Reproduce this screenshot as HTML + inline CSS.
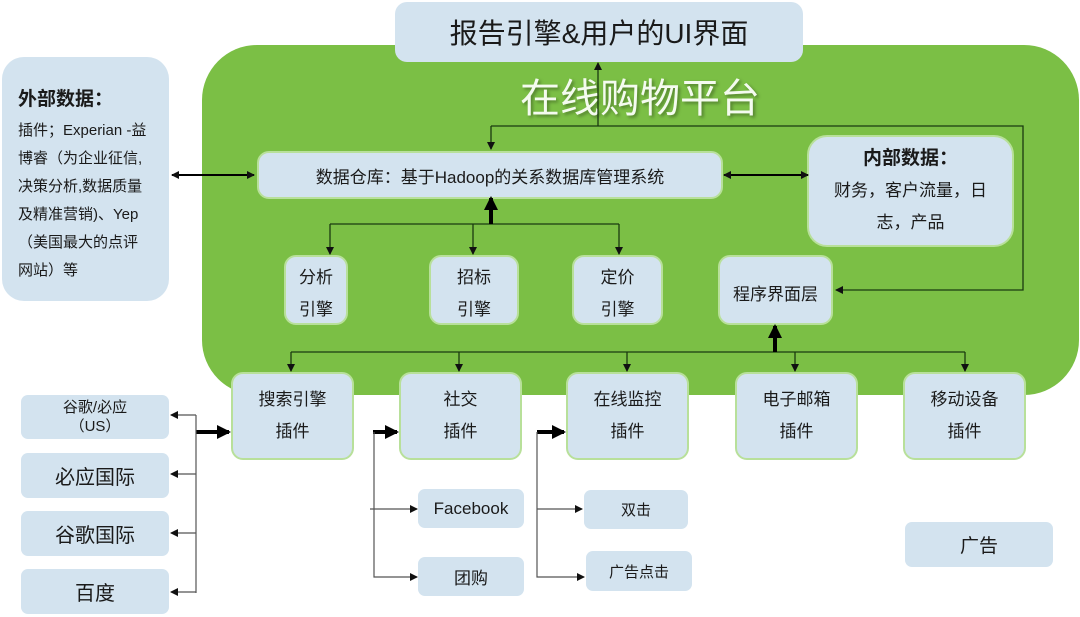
<!DOCTYPE html>
<html><head><meta charset="utf-8"><style>
body{margin:0;width:1080px;height:617px;background:#fff;position:relative;overflow:hidden;font-family:"Liberation Sans","Noto Sans CJK SC",sans-serif;color:#1a1a1a}
.b{position:absolute;background:#d3e3ef;border-radius:12px;box-sizing:border-box;display:flex;flex-direction:column;align-items:center;justify-content:center;text-align:center}
.g{border:2px solid #b8e09a}
#green{position:absolute;left:202px;top:45px;width:877px;height:350px;background:#7bbf45;border-radius:55px}
svg{position:absolute;left:0;top:0}
</style></head><body>
<div id="green"></div>
<div style="position:absolute;left:510px;top:74px;width:260px;text-align:center;font-size:40px;color:#f4fbef;text-shadow:2px 2px 3px rgba(0,0,0,0.35);line-height:50px">在线购物平台</div>
<div class="b" style="left:395px;top:2px;width:408px;height:60px;font-size:28px">报告引擎&amp;用户的UI界面</div>
<div class="b" style="left:2px;top:57px;width:167px;height:244px;border-radius:22px;align-items:flex-start;justify-content:flex-start;padding:28px 0 0 16px;text-align:left;font-size:15px;line-height:28px">
<div style="font-weight:bold;font-size:19px;line-height:30px;margin-bottom:2px">外部数据：</div>
<div>插件；Experian -益<br>博睿（为企业征信,<br>决策分析,数据质量<br>及精准营销)、Yep<br>（美国最大的点评<br>网站）等</div></div>
<div class="b g" style="left:257px;top:151px;width:466px;height:48px;font-size:17px">数据仓库：基于Hadoop的关系数据库管理系统</div>
<div class="b g" style="left:807px;top:135px;width:207px;height:112px;border-radius:20px;font-size:17px;line-height:32px"><b style="font-size:19px">内部数据：</b><div>财务，客户流量，日<br>志，产品</div></div>
<div class="b g" style="left:284px;top:255px;width:64px;height:70px;font-size:17px;line-height:32px;padding-top:8px">分析<br>引擎</div>
<div class="b g" style="left:429px;top:255px;width:90px;height:70px;font-size:17px;line-height:32px;padding-top:8px">招标<br>引擎</div>
<div class="b g" style="left:572px;top:255px;width:91px;height:70px;font-size:17px;line-height:32px;padding-top:8px">定价<br>引擎</div>
<div class="b g" style="left:718px;top:255px;width:115px;height:70px;font-size:17px;padding-top:4px">程序界面层</div>
<div class="b g" style="left:231px;top:372px;width:123px;height:88px;font-size:17px;line-height:32px">搜索引擎<br>插件</div>
<div class="b g" style="left:399px;top:372px;width:123px;height:88px;font-size:17px;line-height:32px">社交<br>插件</div>
<div class="b g" style="left:566px;top:372px;width:123px;height:88px;font-size:17px;line-height:32px">在线监控<br>插件</div>
<div class="b g" style="left:735px;top:372px;width:123px;height:88px;font-size:17px;line-height:32px">电子邮箱<br>插件</div>
<div class="b g" style="left:903px;top:372px;width:123px;height:88px;font-size:17px;line-height:32px">移动设备<br>插件</div>
<div class="b" style="left:21px;top:395px;width:148px;height:44px;font-size:15px;line-height:19px;border-radius:7px">谷歌/必应<br>（US）</div>
<div class="b" style="left:21px;top:453px;width:148px;height:45px;font-size:20px;border-radius:7px">必应国际</div>
<div class="b" style="left:21px;top:511px;width:148px;height:45px;font-size:20px;border-radius:7px">谷歌国际</div>
<div class="b" style="left:21px;top:569px;width:148px;height:45px;font-size:20px;border-radius:7px">百度</div>
<div class="b" style="left:418px;top:489px;width:106px;height:39px;font-size:17px;border-radius:7px">Facebook</div>
<div class="b" style="left:418px;top:557px;width:106px;height:39px;font-size:17px;border-radius:7px">团购</div>
<div class="b" style="left:584px;top:490px;width:104px;height:39px;font-size:15px;border-radius:7px">双击</div>
<div class="b" style="left:586px;top:551px;width:106px;height:40px;font-size:15px;border-radius:7px">广告点击</div>
<div class="b" style="left:905px;top:522px;width:148px;height:45px;font-size:19px;border-radius:7px">广告</div>
<svg width="1080" height="617">
<defs>
<marker id="a" markerWidth="8" markerHeight="8" refX="7" refY="4" orient="auto" markerUnits="userSpaceOnUse"><path d="M0,0 L8,4 L0,8z" fill="#111"/></marker>
<marker id="t" markerWidth="14" markerHeight="14" refX="12" refY="7" orient="auto" markerUnits="userSpaceOnUse"><path d="M0,0 L14,7 L0,14z" fill="#000"/></marker>
</defs>
<g stroke="#1a3a10" stroke-width="1.3" fill="none">
<path d="M491,126 H1023 V290 H836" marker-end="url(#a)"/>
<path d="M491,126 V149" marker-end="url(#a)"/>
<path d="M598,126 V63" marker-end="url(#a)"/>
<path d="M330,224 H619"/>
<path d="M330,224 V254" marker-end="url(#a)"/>
<path d="M473,224 V254" marker-end="url(#a)"/>
<path d="M619,224 V254" marker-end="url(#a)"/>
<path d="M291,352 H965"/>
<path d="M291,352 V371" marker-end="url(#a)"/>
<path d="M459,352 V371" marker-end="url(#a)"/>
<path d="M627,352 V371" marker-end="url(#a)"/>
<path d="M795,352 V371" marker-end="url(#a)"/>
<path d="M965,352 V371" marker-end="url(#a)"/>
</g>
<g stroke="#000" stroke-width="2">
<path d="M176,175 H254" marker-end="url(#a)"/>
<path d="M200,175 H172" marker-end="url(#a)"/>
<path d="M727,175 H808" marker-end="url(#a)"/>
<path d="M760,175 H724" marker-end="url(#a)"/>
</g>
<g stroke="#000" stroke-width="4">
<path d="M491,224 V198" marker-end="url(#t)"/>
<path d="M775,352 V326" marker-end="url(#t)"/>
<path d="M196,432 H229" marker-end="url(#t)"/>
<path d="M373,432 H397" marker-end="url(#t)"/>
<path d="M537,432 H564" marker-end="url(#t)"/>
</g>
<g stroke="#555" stroke-width="1.2" fill="none">
<path d="M196,415 V593"/>
<path d="M196,415 H171" marker-end="url(#a)"/>
<path d="M196,474 H171" marker-end="url(#a)"/>
<path d="M196,533 H171" marker-end="url(#a)"/>
<path d="M196,592 H171" marker-end="url(#a)"/>
<path d="M374,432 V577 H417" marker-end="url(#a)"/>
<path d="M370,509 H417" marker-end="url(#a)"/>
<path d="M537,432 V577 H584" marker-end="url(#a)"/>
<path d="M537,509 H582" marker-end="url(#a)"/>
</g>
</svg>
</body></html>
